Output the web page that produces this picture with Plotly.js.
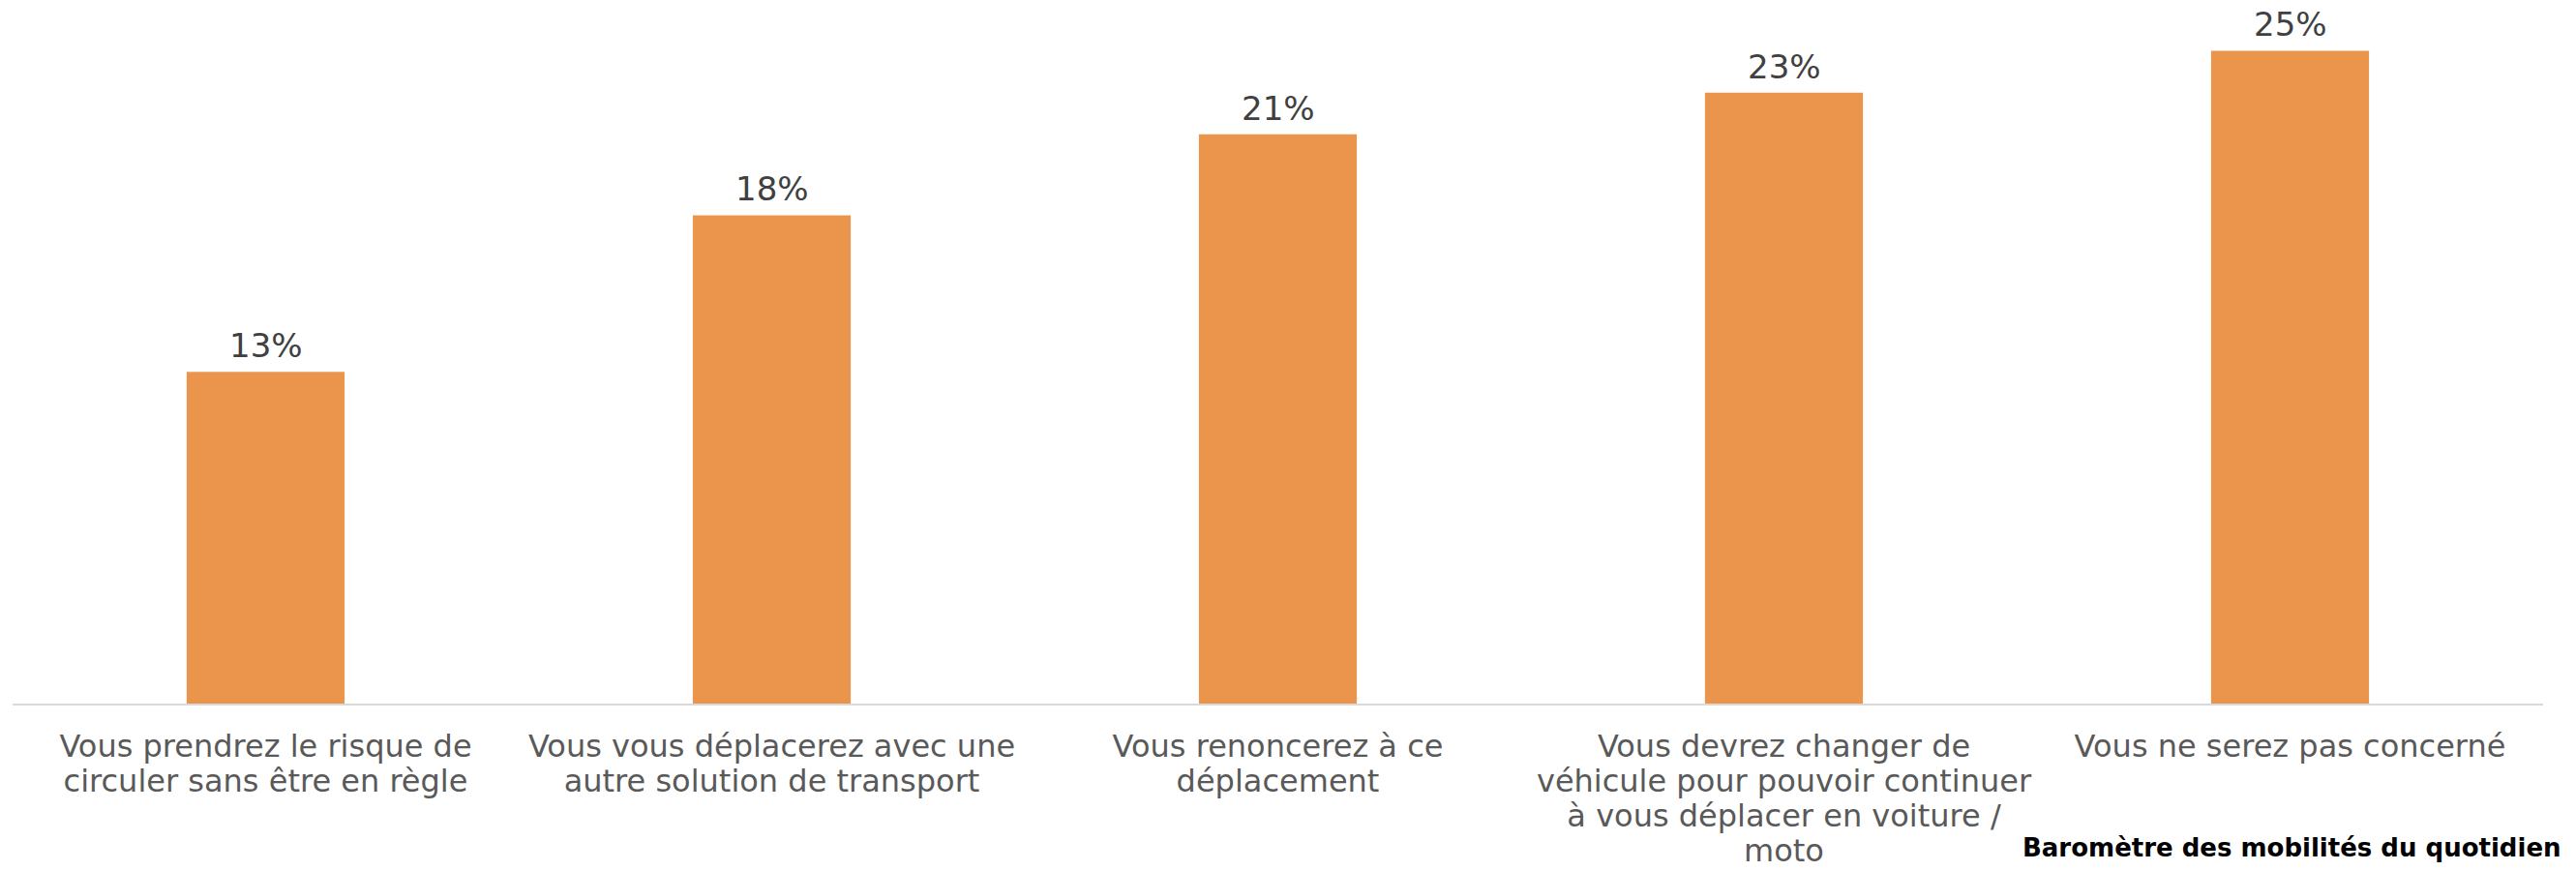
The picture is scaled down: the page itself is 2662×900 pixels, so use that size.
<!DOCTYPE html>
<html>
<head>
<meta charset="utf-8">
<script src="https://cdn.plot.ly/plotly-3.0.1.min.js"></script>
<style>
  html, body { margin: 0; padding: 0; background: #ffffff; }
  #chart { width: 2662px; height: 900px; }
</style>
</head>
<body>
<div id="chart"></div>
<script>
// Categories (x axis labels, wrapped as in the reference)
const categories = [
  "Vous prendrez le risque de<br>circuler sans être en règle",
  "Vous vous déplacerez avec une<br>autre solution de transport",
  "Vous renoncerez à ce<br>déplacement",
  "Vous devrez changer de<br>véhicule pour pouvoir continuer<br>à vous déplacer en voiture /<br>moto",
  "Vous ne serez pas concerné"
];
// Bar heights (percent)
const values = [12.7, 18.7, 21.8, 23.4, 25.0];
// Data labels as printed on the reference
const valueLabels = ["13%", "18%", "21%", "23%", "25%"];
const sourceText = "Baromètre des mobilités du quotidien";

const FONT = "Verdana, 'DejaVu Sans', sans-serif";

const trace = {
  type: "bar",
  x: categories,
  y: values,
  marker: { color: "#EB944C", line: { width: 0 } },
  hoverinfo: "skip",
  cliponaxis: false
};

const labelAnnotations = categories.map((c, i) => ({
  x: c,
  y: values[i],
  xref: "x",
  yref: "y",
  text: valueLabels[i],
  showarrow: false,
  yanchor: "bottom",
  yshift: 5,
  font: { family: FONT, size: 34, color: "#404040" }
}));

const layout = {
  width: 2662,
  height: 900,
  margin: { l: 13, r: 34, t: 12, b: 173 },
  paper_bgcolor: "#ffffff",
  plot_bgcolor: "#ffffff",
  showlegend: false,
  bargap: 0.688,
  xaxis: {
    type: "category",
    range: [-0.5, 4.5],
    showgrid: false,
    zeroline: false,
    showline: true,
    linecolor: "#D9D9D9",
    linewidth: 2,
    ticks: "",
    ticklabelstandoff: 15,
    tickfont: { family: FONT, size: 32, color: "#595959" },
    fixedrange: true
  },
  yaxis: {
    range: [0, 26.5],
    visible: false,
    showgrid: false,
    zeroline: false,
    fixedrange: true
  },
  annotations: labelAnnotations.concat([{
    xref: "paper",
    yref: "paper",
    x: 1.008,
    y: -0.208,
    xanchor: "right",
    yanchor: "middle",
    text: "<b>" + sourceText + "</b>",
    showarrow: false,
    font: { family: FONT, size: 26, color: "#000000" }
  }])
};

// Tighter line spacing for the wrapped category labels (as in the reference)
function tightenTickLines() {
  document.querySelectorAll("#chart .xtick text tspan.line").forEach(t => {
    const dy = t.getAttribute("dy");
    if (dy && dy.endsWith("em")) {
      const v = parseFloat(dy);
      t.setAttribute("dy", (v / 1.3 * 1.12) + "em");
    }
  });
}

Plotly.newPlot("chart", [trace], layout, { displayModeBar: false, staticPlot: true })
  .then(tightenTickLines);
</script>
</body>
</html>
